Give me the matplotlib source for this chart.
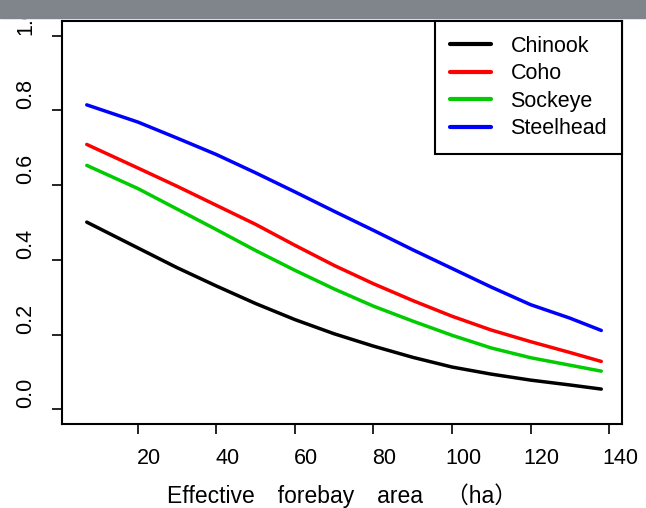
import matplotlib
matplotlib.use('agg')
import matplotlib.pyplot as plt
from matplotlib.transforms import ScaledTranslation
from matplotlib.patches import Rectangle

plt.rcParams['font.family'] = ['Liberation Sans', 'Noto Sans CJK SC']

# forebay area (ha) and estimated values
area = [7, 20, 30, 40, 50, 60, 70, 80, 90, 100, 110, 120, 130, 138]
chinook = [0.501, 0.432, 0.379, 0.330, 0.283, 0.240, 0.202, 0.169, 0.139, 0.113, 0.094, 0.078, 0.065, 0.054]
coho = [0.709, 0.646, 0.597, 0.546, 0.495, 0.439, 0.385, 0.336, 0.291, 0.249, 0.212, 0.181, 0.152, 0.128]
sockeye = [0.653, 0.591, 0.536, 0.481, 0.425, 0.372, 0.322, 0.276, 0.236, 0.198, 0.164, 0.138, 0.118, 0.102]
steelhead = [0.815, 0.769, 0.726, 0.682, 0.633, 0.582, 0.530, 0.479, 0.427, 0.377, 0.327, 0.280, 0.244, 0.211]

species = ['Chinook', 'Coho', 'Sockeye', 'Steelhead']
colours = ['black', '#ff0000', '#00cc00', '#0000ff']
xticks = [20, 40, 60, 80, 100, 120, 140]
yticks = [0.0, 0.2, 0.4, 0.6, 0.8, 1.0]

fig = plt.figure(figsize=(6.46, 5.08), dpi=100)
ax = fig.add_axes([0.096, 0.165, 0.867, 0.794])

for vals, name, c in zip([chinook, coho, sockeye, steelhead], species, colours):
    ax.plot(area, vals, color=c, lw=2.5, label=name, solid_capstyle='round')

ax.set_xlim(0.7, 143.3)
ax.set_ylim(-0.04, 1.04)
ax.set_xticks(xticks)
ax.set_yticks(yticks)
ax.set_xticklabels([str(t) for t in xticks])
ax.set_yticklabels(['%.1f' % t for t in yticks])

for s in ax.spines.values():
    s.set_linewidth(1.5)
ax.tick_params(length=7.5, width=1.2, labelsize=15.5, pad=10)
ax.tick_params(axis='y', labelrotation=90, pad=11)

# labels sit a little off their ticks in the original
for lab in ax.get_xticklabels():
    lab.set_transform(lab.get_transform() + ScaledTranslation(11/100, 0, fig.dpi_scale_trans))
for lab in ax.get_yticklabels():
    lab.set_verticalalignment('center')
    lab.set_transform(lab.get_transform() + ScaledTranslation(0, 16/100, fig.dpi_scale_trans))

ax.set_xlabel('Effective\u3000forebay\u3000area\u3000\uff08ha\uff09', fontsize=16.5, labelpad=10)

leg = ax.legend(loc='upper right', borderaxespad=0, fontsize=15.5, fancybox=False,
                edgecolor='black', framealpha=1, handlelength=1.9, handletextpad=0.9,
                borderpad=0.7, labelspacing=0.3)
leg.get_frame().set_linewidth(1.5)
for line in leg.get_lines():
    line.set_linewidth(3)

# grey strip across the top of the screenshot
fig.patches.append(Rectangle((0, 1 - 18/508), 1, 18/508, transform=fig.transFigure,
                             color='#80848b', zorder=10))

fig.savefig('out.png', dpi=100)
